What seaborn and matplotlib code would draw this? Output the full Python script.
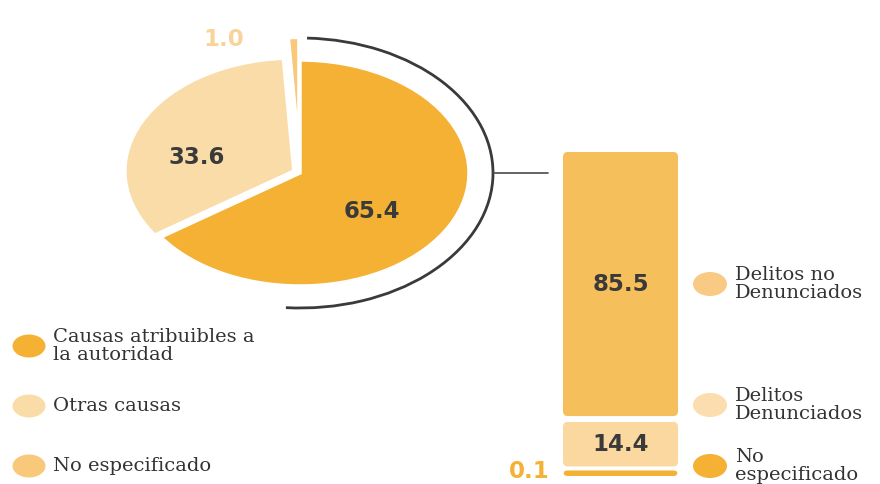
import matplotlib
matplotlib.use("Agg")
import matplotlib.pyplot as plt
from matplotlib.patches import Arc, Ellipse, FancyBboxPatch
import seaborn as sns

# datos
causas = ["Causas atribuibles a\nla autoridad", "Otras causas", "No especificado"]
causas_pct = [65.4, 33.6, 1.0]
causas_col = ["#F4B133", "#FADCA9", "#F8C97A"]

delitos = ["No\nespecificado", "Delitos\nDenunciados", "Delitos no\nDenunciados"]
delitos_pct = [0.1, 14.4, 85.5]
delitos_col = ["#F4B133", "#FAD89F", "#F5BF5B"]
delitos_leg_col = ["#F4B133", "#FBDDB0", "#F8CA84"]

sns.set_theme(style="white")
plt.rcParams["font.family"] = ["DejaVu Sans"]

W, H = 880, 484
fig = plt.figure(figsize=(W / 100, H / 100), dpi=100)


def fx(px):
    return px / W


def fy(py):
    return 1 - py / H


# --- pastel (ejes a pantalla completa, elipse estirada como el original)
cx, cy, rx, ry = 300, 173, 169, 113
ax = fig.add_axes([0, 0, 1, 1])
ax.pie(causas_pct, colors=causas_col, startangle=90, counterclock=False,
       explode=[0, 0.04, 0.2],
       wedgeprops=dict(edgecolor="white", linewidth=2.5))
ax.set_aspect("auto")
ax.set_xlim(-cx / rx, (W - cx) / rx)
ax.set_ylim((cy - H) / ry, cy / ry)
ax.axis("off")

arc_rx, arc_ry = (493 - cx) / rx, (cy - 38) / ry
ax.add_patch(Arc((0, 0), 2 * arc_rx, 2 * arc_ry, theta1=-94, theta2=88,
                 color="#3a3a3a", lw=2.0))
ax.plot([arc_rx, (548 - cx) / rx], [0, 0], color="#4a4a4a", lw=1.2)

num_kw = dict(fontsize=16.5, fontweight="bold", ha="center", va="center")
fig.text(fx(372), fy(212), f"{causas_pct[0]:.1f}", color="#3a3a3a", **num_kw)
fig.text(fx(197), fy(158), f"{causas_pct[1]:.1f}", color="#3a3a3a", **num_kw)
fig.text(fx(224), fy(40), f"{causas_pct[2]:.1f}", color="#F9D49A", **num_kw)

# --- barra apilada
bx = fig.add_axes([fx(563), fy(476), 115 / W, 324 / H])
gaps = [1.3, 1.9]
min_h = 1.8
heights = [max(v, min_h) for v in delitos_pct]
bottoms = [0, heights[0] + gaps[0], heights[0] + gaps[0] + heights[1] + gaps[1]]
top = bottoms[-1] + heights[-1]
bars = bx.bar([0] * 3, heights, width=1.0, bottom=bottoms, color=delitos_col)
bx.set_xlim(-0.5, 0.5)
bx.set_ylim(0, top)
bx.axis("off")

y_per_px = top / 324
for b in list(bars):
    r = 0.04
    asp = (5 * y_per_px) / r
    fb = FancyBboxPatch((b.get_x(), b.get_y()), b.get_width(), b.get_height(),
                        boxstyle=f"round,pad=0,rounding_size={r}",
                        mutation_aspect=asp, facecolor=b.get_facecolor(),
                        edgecolor="none")
    b.remove()
    bx.add_patch(fb)

bx.text(0, bottoms[2] + heights[2] / 2, f"{delitos_pct[2]:.1f}",
        color="#3a3a3a", **num_kw)
bx.text(0, bottoms[1] + heights[1] / 2, f"{delitos_pct[1]:.1f}",
        color="#3a3a3a", **num_kw)
fig.text(fx(529), fy(471), f"{delitos_pct[0]:.1f}", color="#F4B133", **num_kw)

# --- leyendas
leg_kw = dict(fontsize=14, family="DejaVu Serif", color="#333333",
              ha="left", va="center", linespacing=0.95)
left_y = [346, 406, 466]
for name, col, y in zip(causas, causas_col, left_y):
    fig.add_artist(Ellipse((fx(29), fy(y)), 33 / W, 23 / H,
                           transform=fig.transFigure, color=col, lw=0))
    fig.text(fx(53), fy(y), name, **leg_kw)

right_y = [466, 405, 284]
for name, col, y in zip(delitos, delitos_leg_col, right_y):
    fig.add_artist(Ellipse((fx(710), fy(y)), 34 / W, 24 / H,
                           transform=fig.transFigure, color=col, lw=0))
    fig.text(fx(735), fy(y), name, **leg_kw)

fig.savefig("out.png", dpi=100)
